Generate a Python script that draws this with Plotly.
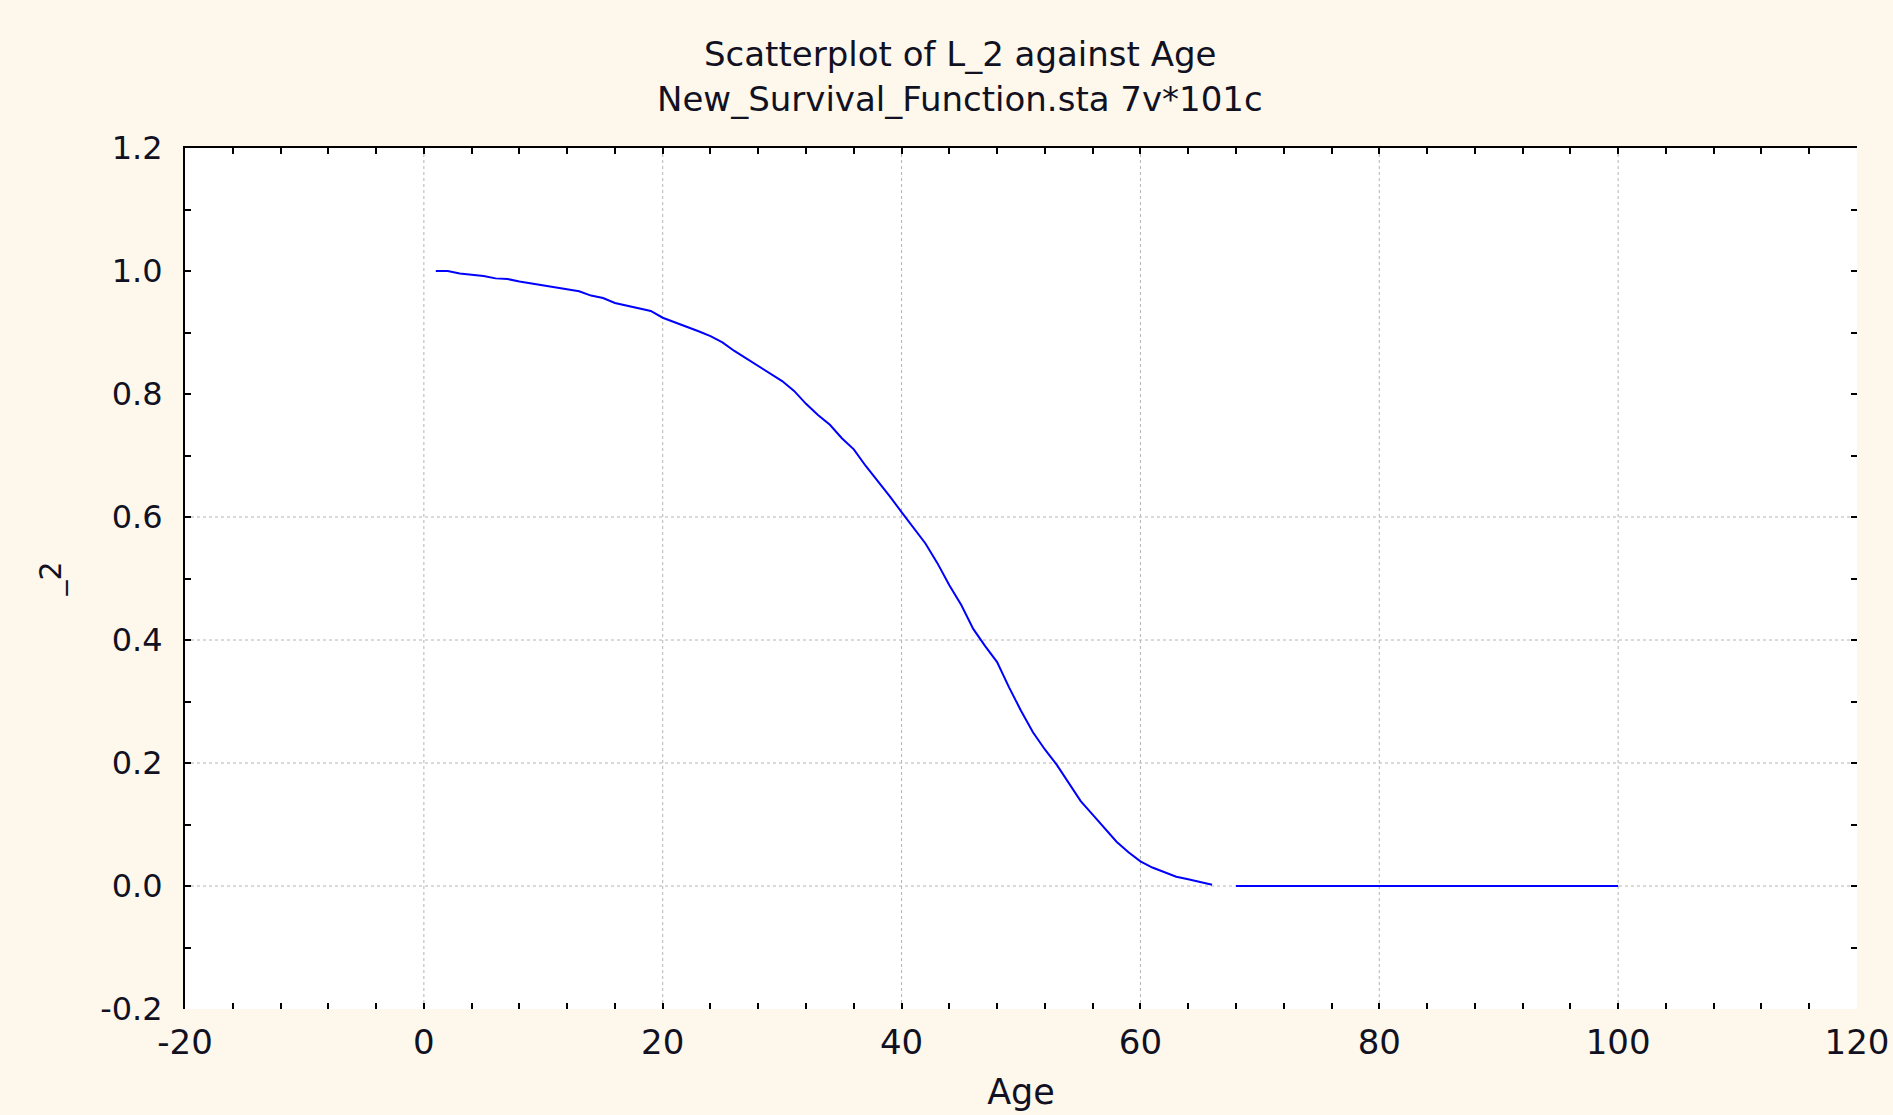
import plotly.graph_objects as go

# ---- data ----
ages = list(range(1, 101))
l2_head = [1.000, 1.000, 0.996, 0.994, 0.992, 0.988, 0.987, 0.983, 0.980, 0.976,
           0.973, 0.970, 0.967, 0.960, 0.956, 0.948, 0.944, 0.939, 0.935, 0.924,
           0.917, 0.909, 0.902, 0.894, 0.884, 0.870, 0.858, 0.845, 0.833, 0.821,
           0.805, 0.784, 0.766, 0.750, 0.728, 0.710, 0.683, 0.659, 0.634, 0.608,
           0.582, 0.557, 0.525, 0.489, 0.457, 0.418, 0.390, 0.364, 0.323, 0.285,
           0.250, 0.222, 0.197, 0.168, 0.138, 0.116, 0.094, 0.072, 0.055, 0.040,
           0.030, 0.023, 0.015, 0.011, 0.006, 0.002]
l2_missing = [None]
l2_tail = [0.0] * 33
l2 = l2_head + l2_missing + l2_tail

x_ticks = [-20, 0, 20, 40, 60, 80, 100, 120]
y_ticks = [-0.2, 0.0, 0.2, 0.4, 0.6, 0.8, 1.0, 1.2]
y_tick_text = ["-0.2", "0.0", "0.2", "0.4", "0.6", "0.8", "1.0", "1.2"]
x_grid = [0, 20, 40, 60, 80, 100]
y_grid = [0.0, 0.2, 0.4, 0.6]

title1 = "Scatterplot of L_2 against Age"
title2 = "New_Survival_Function.sta 7v*101c"

BG = "#fef8ec"
TXT = "#111122"
XR = [-20, 120]
YR = [-0.2, 1.2]
FONT = "DejaVu Sans, sans-serif"

fig = go.Figure()
fig.add_trace(go.Scatter(x=ages, y=l2, mode="lines",
                         line=dict(color="#0000ff", width=2),
                         connectgaps=False, showlegend=False, hoverinfo="x+y"))
# helper trace so the mirrored frame axes are drawn
fig.add_trace(go.Scatter(x=ages, y=l2, mode="lines", xaxis="x2", yaxis="y2",
                         line=dict(color="rgba(0,0,0,0)", width=0),
                         showlegend=False, hoverinfo="skip"))

shapes = []
for gx in x_grid:
    shapes.append(dict(type="line", xref="x", yref="paper", x0=gx, x1=gx, y0=0, y1=1,
                       line=dict(color="#b4b4b4", width=1, dash="dot"), layer="below"))
for gy in y_grid:
    shapes.append(dict(type="line", xref="paper", yref="y", x0=0, x1=1, y0=gy, y1=gy,
                       line=dict(color="#b4b4b4", width=1, dash="dot"), layer="below"))

fig.update_layout(
    width=1893, height=1115,
    paper_bgcolor=BG, plot_bgcolor="white",
    margin=dict(l=185, r=36, t=148, b=106, autoexpand=False),
    font=dict(family=FONT, color=TXT),
    shapes=shapes,
    xaxis=dict(range=XR, tickvals=x_ticks, ticktext=[str(v) for v in x_ticks],
               showline=False, showgrid=False, zeroline=False, automargin=False,
               ticks="inside", ticklen=6, tickwidth=2, tickcolor="black",
               minor=dict(dtick=4, tick0=0, ticks="inside", ticklen=6, tickwidth=2,
                          tickcolor="black", showgrid=False),
               tickfont=dict(family=FONT, size=34, color=TXT),
               ticklabelstandoff=10, ticklabeloverflow="allow",
               title=dict(text="Age", font=dict(family=FONT, size=35, color=TXT), standoff=18)),
    xaxis2=dict(range=XR, overlaying="x", side="top", anchor="y", automargin=False,
                showline=True, linecolor="black", linewidth=2,
                showgrid=False, zeroline=False, showticklabels=False,
                ticks="inside", ticklen=6, tickwidth=2, tickcolor="black",
                dtick=4, tick0=0),
    yaxis=dict(range=YR, tickvals=y_ticks, ticktext=y_tick_text, automargin=False,
               showline=True, linecolor="black", linewidth=2,
               showgrid=False, zeroline=False,
               ticks="inside", ticklen=6, tickwidth=2, tickcolor="black",
               minor=dict(dtick=0.1, tick0=0, ticks="inside", ticklen=6, tickwidth=2,
                          tickcolor="black", showgrid=False),
               tickfont=dict(family=FONT, size=32, color=TXT),
               ticklabelstandoff=14, ticklabeloverflow="allow",
               title=dict(text="_2", font=dict(family=FONT, size=30, color=TXT), standoff=30)),
    yaxis2=dict(range=YR, overlaying="y", side="right", anchor="x", automargin=False,
                showline=False, showgrid=False, zeroline=False, showticklabels=False,
                ticks="inside", ticklen=6, tickwidth=2, tickcolor="black",
                dtick=0.1, tick0=0),
    annotations=[
        dict(text=title1, xref="paper", yref="paper", x=0.4635, y=1.109,
             xanchor="center", yanchor="middle", showarrow=False,
             font=dict(family=FONT, size=34, color=TXT)),
        dict(text=title2, xref="paper", yref="paper", x=0.4635, y=1.057,
             xanchor="center", yanchor="middle", showarrow=False,
             font=dict(family=FONT, size=34, color=TXT)),
    ],
)

fig.write_html("out.html")
